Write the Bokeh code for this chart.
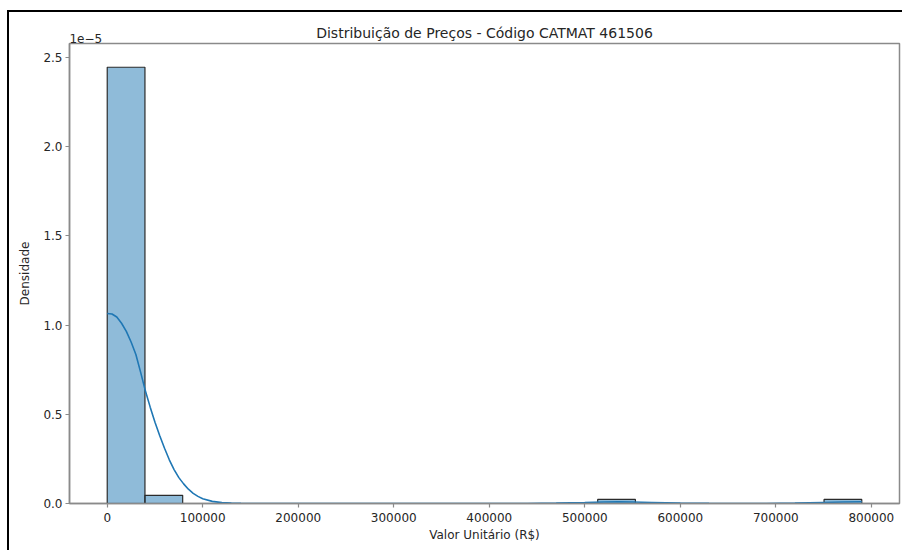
from bokeh.plotting import figure
from bokeh.models import FixedTicker, PrintfTickFormatter, BasicTickFormatter, Range1d, LinearAxis
from bokeh.embed import file_html
from bokeh.resources import INLINE

# ---- data ----
title_text = "Distribuição de Preços - Código CATMAT 461506"
x_label = "Valor Unitário (R$)"
y_label = "Densidade"
offset_text = "1e\u22125"

# histogram bars (only non-empty bins), density in units of 1e-5
bin_left = [0, 39500, 513500, 750500]
bin_right = [39500, 79000, 553000, 790000]
density_e5 = [2.445, 0.046, 0.023, 0.023]

# KDE curve (x in R$, density in 1e-5)
kde_x = [0, 5000, 10000, 15000, 20000, 25000, 30000, 35000, 40000, 45000,
         50000, 55000, 60000, 65000, 70000, 75000, 80000, 85000, 90000, 95000,
         100000, 110000, 120000, 130000, 140000, 160000, 200000, 300000, 400000,
         440000, 470000, 500000, 520000, 535000, 550000, 570000, 600000, 630000,
         660000, 690000, 720000, 750000, 770000, 790000]
kde_y = [1.065, 1.062, 1.045, 1.01, 0.965, 0.905, 0.835, 0.735, 0.63, 0.54,
         0.455, 0.38, 0.31, 0.245, 0.19, 0.145, 0.11, 0.08, 0.057, 0.04,
         0.027, 0.012, 0.005, 0.002, 0.0008, 0.0001, 0.0, 0.0, 0.0,
         0.0003, 0.002, 0.0055, 0.008, 0.009, 0.0085, 0.006, 0.002, 0.0005,
         0.0001, 0.0003, 0.002, 0.006, 0.0085, 0.0095]

x_ticks = [0, 100000, 200000, 300000, 400000, 500000, 600000, 700000, 800000]
y_ticks = [0.0, 0.5, 1.0, 1.5, 2.0, 2.5]
offset_pos = [-22500]

FONT = "DejaVu Sans"
TXT = "#262626"
SPINE = "#8a8a8a"

p = figure(width=895, height=540, output_backend="svg", toolbar_location=None,
           x_range=Range1d(-39500, 829500), y_range=Range1d(0, 2.578),
           min_border_left=60, min_border_right=5, min_border_top=31, min_border_bottom=49)
p.styles = {"margin-left": "7px", "margin-top": "10px",
            "border-left": "2px solid black", "border-top": "2px solid black"}

xa = p.below[0]
ya = p.left[0]

# offset text "1e-5" as a tick label of an extra axis above the frame
off_axis = LinearAxis(ticker=FixedTicker(ticks=offset_pos),
                      major_label_overrides={offset_pos[0]: offset_text})
off_axis.axis_line_color = None
off_axis.major_tick_line_color = None
off_axis.minor_tick_line_color = None
off_axis.major_tick_out = 0
off_axis.major_tick_in = 0
off_axis.major_label_standoff = 1
off_axis.major_label_text_font = FONT
off_axis.major_label_text_font_size = "12px"
off_axis.major_label_text_color = TXT
p.add_layout(off_axis, "above")

p.title.text = title_text
p.title.align = "center"
p.title.text_font = FONT
p.title.text_font_size = "14px"
p.title.text_font_style = "normal"
p.title.text_color = TXT
try:
    p.title.standoff = -20
except Exception:
    p.title.standoff = 0

p.quad(left=bin_left, right=bin_right, bottom=0, top=density_e5,
       fill_color="#1f77b4", fill_alpha=0.5, line_color="#2b2b2b", line_width=1.2)
p.line(kde_x, kde_y, line_color="#1f77b4", line_width=1.6)

p.xgrid.visible = False
p.ygrid.visible = False
p.outline_line_color = SPINE
p.outline_line_width = 1.5
p.background_fill_color = "white"
p.border_fill_color = "white"

for ax in (xa, ya):
    ax.axis_line_color = SPINE
    ax.axis_line_width = 1.5
    ax.major_tick_line_color = SPINE
    ax.major_tick_line_width = 1.2
    ax.major_tick_out = 4
    ax.major_tick_in = 0
    ax.minor_tick_line_color = None
    ax.major_label_text_font = FONT
    ax.major_label_text_font_size = "12px"
    ax.major_label_text_color = TXT
    ax.axis_label_text_font = FONT
    ax.axis_label_text_font_size = "12px"
    ax.axis_label_text_font_style = "normal"
    ax.axis_label_text_color = TXT

xa.ticker = FixedTicker(ticks=x_ticks)
xa.formatter = BasicTickFormatter(use_scientific=False)
xa.axis_label = x_label
xa.major_label_standoff = 5
xa.axis_label_standoff = 3

ya.ticker = FixedTicker(ticks=y_ticks)
ya.formatter = PrintfTickFormatter(format="%.1f")
ya.axis_label = y_label
ya.major_label_standoff = 3
ya.axis_label_standoff = 8

open("out.html", "w").write(file_html(p, INLINE))
